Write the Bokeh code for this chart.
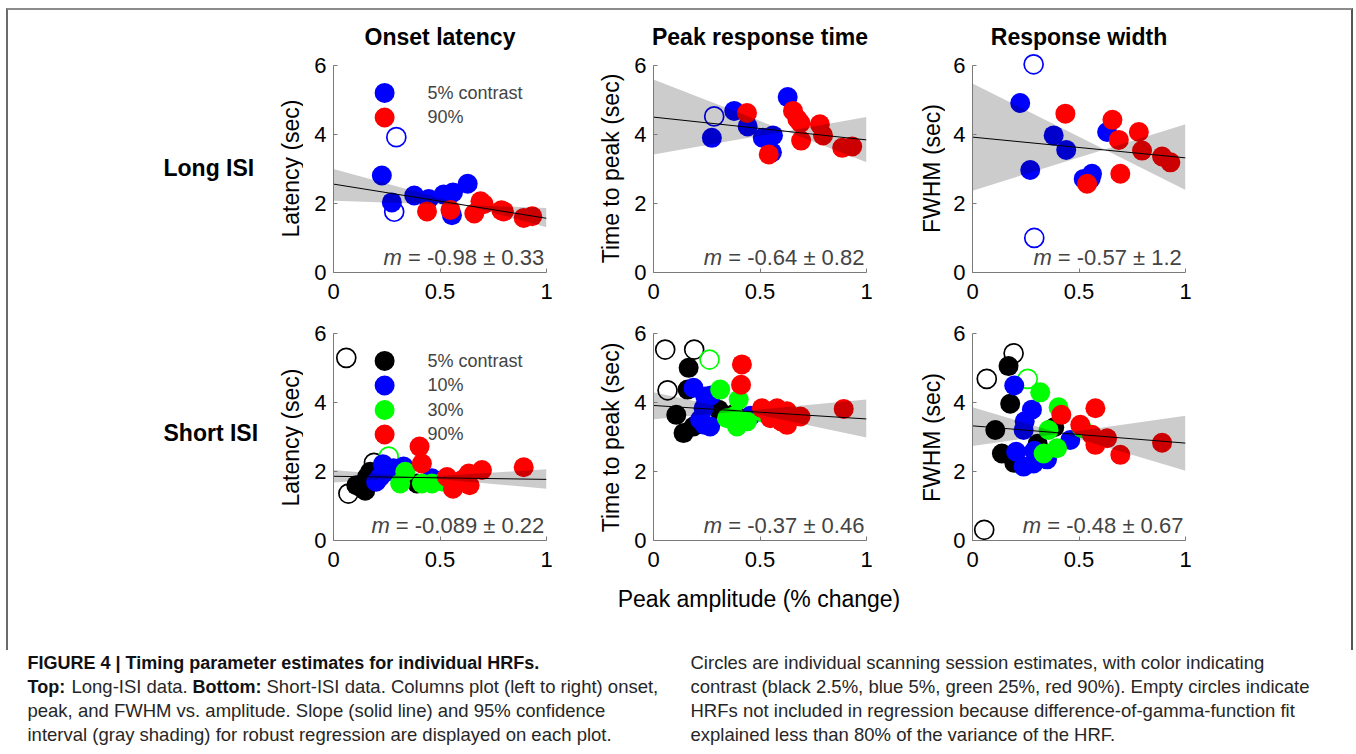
import math
from bokeh.plotting import figure
from bokeh.models import Range1d, FixedTicker, Label, CustomJSTickFormatter
from bokeh.layouts import row, column
from bokeh.core.properties import value
from bokeh.embed import file_html
from bokeh.resources import INLINE

FONT = "Liberation Sans"
BLACK, BLUE, GREEN, RED = "#000000", "#0000ff", "#00ff00", "#ff0000"

# ---------------- data ----------------
# Long ISI - onset latency
lon_blue_x = [0.227, 0.274, 0.379, 0.447, 0.517, 0.561, 0.630, 0.556]
lon_blue_y = [2.81, 2.03, 2.23, 2.13, 2.26, 2.32, 2.57, 1.66]
lon_red_x = [0.439, 0.549, 0.661, 0.690, 0.705, 0.788, 0.800, 0.893, 0.933]
lon_red_y = [1.77, 1.81, 1.71, 2.06, 1.98, 1.80, 1.77, 1.58, 1.63]
lon_open_blue_x = [0.295, 0.285]
lon_open_blue_y = [3.92, 1.76]

# Long ISI - time to peak
lpk_blue_x = [0.274, 0.379, 0.442, 0.513, 0.561, 0.556, 0.630]
lpk_blue_y = [3.90, 4.68, 4.23, 3.90, 3.97, 3.48, 5.08]
lpk_red_x = [0.439, 0.541, 0.655, 0.675, 0.690, 0.693, 0.781, 0.796, 0.886, 0.933]
lpk_red_y = [4.62, 3.42, 4.68, 4.45, 4.33, 3.82, 4.29, 3.97, 3.61, 3.65]
lpk_open_blue_x = [0.285]
lpk_open_blue_y = [4.52]

# Long ISI - FWHM
lfw_blue_x = [0.224, 0.271, 0.381, 0.440, 0.522, 0.561, 0.555, 0.632]
lfw_blue_y = [4.91, 2.97, 3.97, 3.55, 2.71, 2.86, 2.72, 4.07]
lfw_red_x = [0.436, 0.538, 0.657, 0.687, 0.694, 0.781, 0.796, 0.890, 0.929]
lfw_red_y = [4.60, 2.57, 4.42, 3.84, 2.86, 4.07, 3.53, 3.36, 3.19]
lfw_open_blue_x = [0.287, 0.290]
lfw_open_blue_y = [6.03, 1.00]

# Short ISI - onset latency
son_black_x = [0.107, 0.125, 0.149, 0.157, 0.172, 0.392]
son_black_y = [1.60, 1.55, 1.44, 1.84, 1.99, 1.65]
son_blue_x = [0.200, 0.219, 0.232, 0.250, 0.282, 0.329, 0.462]
son_blue_y = [1.70, 1.84, 2.21, 2.00, 2.09, 2.14, 1.80]
son_green_x = [0.313, 0.337, 0.415, 0.462, 0.517]
son_green_y = [1.65, 1.99, 1.65, 1.65, 1.70]
son_red_x = [0.404, 0.415, 0.533, 0.561, 0.608, 0.635, 0.639, 0.697, 0.893]
son_red_y = [2.72, 2.23, 1.84, 1.50, 1.77, 1.94, 1.60, 2.04, 2.12]
son_open_black_x = [0.060, 0.070, 0.190]
son_open_black_y = [5.29, 1.36, 2.25]
son_open_green_x = [0.259]
son_open_green_y = [2.43]

# Short ISI - time to peak
spk_black_x = [0.165, 0.160, 0.107, 0.141, 0.188, 0.306, 0.379]
spk_black_y = [5.00, 4.37, 3.64, 3.11, 3.30, 3.79, 3.67]
spk_blue_x = [0.188, 0.243, 0.270, 0.235, 0.219, 0.240, 0.266, 0.455]
spk_blue_y = [4.42, 4.17, 4.20, 3.83, 3.50, 3.35, 3.30, 3.61]
spk_green_x = [0.313, 0.400, 0.345, 0.380, 0.392, 0.439, 0.514]
spk_green_y = [4.37, 4.08, 3.54, 3.60, 3.30, 3.45, 3.71]
spk_red_x = [0.415, 0.411, 0.509, 0.549, 0.580, 0.600, 0.627, 0.627, 0.690, 0.893]
spk_red_y = [5.10, 4.51, 3.83, 3.54, 3.83, 3.45, 3.74, 3.35, 3.59, 3.81]
spk_open_black_x = [0.055, 0.191, 0.066]
spk_open_black_y = [5.53, 5.53, 4.35]
spk_open_green_x = [0.263]
spk_open_green_y = [5.24]

# Short ISI - FWHM
sfw_black_x = [0.169, 0.177, 0.107, 0.138, 0.196, 0.306, 0.384]
sfw_black_y = [5.05, 3.96, 3.20, 2.52, 2.25, 2.80, 3.28]
sfw_blue_x = [0.196, 0.279, 0.245, 0.240, 0.205, 0.290, 0.240, 0.287, 0.350, 0.459]
sfw_blue_y = [4.49, 3.79, 3.45, 3.20, 2.57, 2.60, 2.14, 2.23, 2.35, 2.91]
sfw_green_x = [0.318, 0.404, 0.357, 0.334, 0.397, 0.514]
sfw_green_y = [4.29, 3.86, 3.20, 2.52, 2.67, 3.25]
sfw_red_x = [0.417, 0.506, 0.577, 0.561, 0.577, 0.632, 0.694, 0.890]
sfw_red_y = [3.64, 3.35, 3.83, 3.06, 2.77, 2.96, 2.48, 2.83]
sfw_open_black_x = [0.193, 0.067, 0.055]
sfw_open_black_y = [5.42, 4.68, 0.31]
sfw_open_green_x = [0.259]
sfw_open_green_y = [4.68]

# robust-regression line (value at amplitude 0 and 1) and 95% band edges
fit_y_at0 = [2.56, 4.50, 3.92, 1.86, 3.91, 3.32]
fit_y_at1 = [1.57, 3.84, 3.32, 1.77, 3.52, 2.82]
band_lo_at0 = [2.08, 3.42, 2.37, 1.68, 3.51, 2.74]
band_hi_at0 = [3.00, 5.59, 5.47, 2.04, 4.29, 3.86]
band_lo_at1 = [1.31, 3.19, 2.39, 1.50, 2.98, 2.02]
band_hi_at1 = [1.87, 4.50, 4.29, 2.06, 4.08, 3.61]
slope_text = ["-0.98 \u00b1 0.33", "-0.64 \u00b1 0.82", "-0.57 \u00b1 1.2",
              "-0.089 \u00b1 0.22", "-0.37 \u00b1 0.46", "-0.48 \u00b1 0.67"]

col_titles = ["Onset latency", "Peak response time", "Response width"]
row_titles = ["Long ISI", "Short ISI"]
y_titles = ["Latency (sec)", "Time to peak (sec)", "FWHM (sec)"]
x_title = "Peak amplitude (% change)"
legend_long = ["5% contrast", "90%"]
legend_short = ["5% contrast", "10%", "30%", "90%"]
x_ticks = [0, 0.5, 1]
y_ticks = [0, 2, 4, 6]

# ---------------- layout constants (page pixels) ----------------
FW, FH, YTOP = 213, 221, 6.4
X0, X1 = 8, 1351                    # inner box of the framed figure
FRAME_L = [333, 653, 972]           # left edge of each plot frame
P_LEFT = [30, 27, 27]
P_RIGHT = [30, 30, 166]
GAPS = [(8, 303), (576, 626), (896, 945)]   # strips holding row / y labels
ROW1 = dict(top=0, bottom=43, f0=51, f1=272)
ROW2 = dict(top=4, bottom=40, f0=319, f1=540)
YLAB_X = [290, 610, 931]
M_X = [0.235, 0.236, 0.286, 0.178, 0.236, 0.236]


def bare(width, height, xr, yr, top=0, bottom=0):
    f = figure(width=width, height=height, x_range=Range1d(*xr), y_range=Range1d(*yr),
               x_axis_type=None, y_axis_type=None, min_border=0,
               min_border_top=top, min_border_bottom=bottom,
               output_backend="svg", toolbar_location=None, title=None)
    f.xgrid.visible = False
    f.ygrid.visible = False
    f.outline_line_color = None
    return f


def put_text(f, x, y, txt, size="23px", style="normal", angle=0.0, align="center"):
    f.text(x=[x], y=[y], text=[txt], text_font=value(FONT), text_font_style=style,
           text_font_size=size, text_color="black", angle=angle,
           text_align=align, text_baseline="middle")


def make_panel(idx, filled, opened, rw):
    c = idx % 3
    p = figure(frame_width=FW, frame_height=FH,
               min_border_left=P_LEFT[c], min_border_right=P_RIGHT[c],
               min_border_top=rw["top"], min_border_bottom=rw["bottom"],
               x_range=Range1d(0, 1), y_range=Range1d(0, YTOP),
               output_backend="svg", toolbar_location=None, title=None)
    p.xgrid.visible = False
    p.ygrid.visible = False
    p.outline_line_color = None
    p.xaxis.ticker = FixedTicker(ticks=x_ticks)
    p.yaxis.ticker = FixedTicker(ticks=y_ticks)
    p.xaxis.bounds = (0, 1)
    p.yaxis.bounds = (0, 6)
    fmt = CustomJSTickFormatter(code="return String(tick)")
    p.xaxis.formatter = fmt
    p.yaxis.formatter = fmt
    for ax in p.axis:
        ax.major_tick_in = 4
        ax.major_tick_out = 0
        ax.minor_tick_in = 0
        ax.minor_tick_out = 0
        ax.axis_line_color = "#7a7a7a"
        ax.major_tick_line_color = "#7a7a7a"
        ax.major_label_text_font = FONT
        ax.major_label_text_font_size = "22px"
        ax.major_label_text_color = "black"
    p.xaxis.major_label_standoff = 11
    p.yaxis.major_label_standoff = 7

    for (xs, ys, col) in opened:
        p.scatter(xs, ys, size=19, marker="circle", fill_color=None,
                  line_color=col, line_width=1.7)
    for (xs, ys, col) in filled:
        p.scatter(xs, ys, size=20, marker="circle", fill_color=col,
                  line_color=col, line_width=0)

    # 95% band: two lines crossing at the pivot
    a0, a1 = band_hi_at0[idx], band_lo_at1[idx]
    b0, b1 = band_lo_at0[idx], band_hi_at1[idx]
    xp = (a0 - b0) / ((a0 - b0) + (b1 - a1))
    yp = a0 + (a1 - a0) * xp
    p.patch([0, xp, 1, 1, xp, 0], [a0, yp, b1, a1, yp, b0],
            fill_color="black", fill_alpha=0.2, line_color=None)
    p.line([0, 1], [fit_y_at0[idx], fit_y_at1[idx]], line_color="black",
           line_width=1)

    p.add_layout(Label(x=M_X[idx], y=0.42, text="m", text_font=FONT,
                       text_font_style="italic", text_font_size="22px",
                       text_align="left", text_baseline="middle"))
    p.add_layout(Label(x=M_X[idx], y=0.42, x_offset=24.4, text="= " + slope_text[idx],
                       text_font=FONT, text_font_size="22px",
                       text_align="left", text_baseline="middle"))
    return p


def legend(p, labels, colors):
    ys = [5.2 - 0.71 * i for i in range(len(labels))]
    for yv, lab, col in zip(ys, labels, colors):
        p.scatter([0.24], [yv], size=20, marker="circle", fill_color=col,
                  line_color=col, line_width=0)
        p.add_layout(Label(x=0.441, y=yv, text=lab, text_font=FONT,
                           text_font_size="18px", text_align="left",
                           text_baseline="middle"))


def strips(rw, row_title, y_row, y_lab):
    out = []
    h = rw["top"] + FH + rw["bottom"]
    for k, (g0, g1) in enumerate(GAPS):
        f = bare(g1 - g0, h, (g0, g1), (rw["f1"], rw["f0"]), rw["top"], rw["bottom"])
        if k == 0:
            put_text(f, 163, y_row, row_title, style="bold", align="left")
        put_text(f, YLAB_X[k], y_lab, y_titles[k], angle=math.pi / 2)
        out.append(f)
    return out


p1 = make_panel(0, [(lon_blue_x, lon_blue_y, BLUE), (lon_red_x, lon_red_y, RED)],
                [(lon_open_blue_x, lon_open_blue_y, BLUE)], ROW1)
p2 = make_panel(1, [(lpk_blue_x, lpk_blue_y, BLUE), (lpk_red_x, lpk_red_y, RED)],
                [(lpk_open_blue_x, lpk_open_blue_y, BLUE)], ROW1)
p3 = make_panel(2, [(lfw_blue_x, lfw_blue_y, BLUE), (lfw_red_x, lfw_red_y, RED)],
                [(lfw_open_blue_x, lfw_open_blue_y, BLUE)], ROW1)
p4 = make_panel(3, [(son_black_x, son_black_y, BLACK), (son_blue_x, son_blue_y, BLUE),
                    (son_green_x, son_green_y, GREEN), (son_red_x, son_red_y, RED)],
                [(son_open_black_x, son_open_black_y, BLACK),
                 (son_open_green_x, son_open_green_y, GREEN)], ROW2)
p5 = make_panel(4, [(spk_black_x, spk_black_y, BLACK), (spk_blue_x, spk_blue_y, BLUE),
                    (spk_green_x, spk_green_y, GREEN), (spk_red_x, spk_red_y, RED)],
                [(spk_open_black_x, spk_open_black_y, BLACK),
                 (spk_open_green_x, spk_open_green_y, GREEN)], ROW2)
p6 = make_panel(5, [(sfw_black_x, sfw_black_y, BLACK), (sfw_blue_x, sfw_blue_y, BLUE),
                    (sfw_green_x, sfw_green_y, GREEN), (sfw_red_x, sfw_red_y, RED)],
                [(sfw_open_black_x, sfw_open_black_y, BLACK),
                 (sfw_open_green_x, sfw_open_green_y, GREEN)], ROW2)

legend(p1, legend_long, [BLUE, RED])
legend(p4, legend_short, [BLACK, BLUE, GREEN, RED])

a1, b1, c1 = strips(ROW1, row_titles[0], 167, 168)
a2, b2, c2 = strips(ROW2, row_titles[1], 432, 437)

# column titles (header strip) and shared x-axis title (footer strip)
header = bare(X1 - X0, 41, (X0, X1), (51, 10))
for k in range(3):
    put_text(header, FRAME_L[k] + FW / 2, 36, col_titles[k], style="bold")
footer = bare(X1 - X0, 70, (X0, X1), (650, 580))
put_text(footer, FRAME_L[1] + FW / 2 - 1, 598, x_title)

# ---------------- caption ----------------
cap = bare(1356, 104, (0, 1356), (754, 650))
cap_items = [
    (27, 662, "FIGURE 4 | Timing parameter estimates for individual HRFs.", "bold"),
    (27, 686, "Top:", "bold"),
    (71, 686, "Long-ISI data.", "normal"),
    (192, 686, "Bottom:", "bold"),
    (266, 686, "Short-ISI data. Columns plot (left to right) onset,", "normal"),
    (27, 710, "peak, and FWHM vs. amplitude. Slope (solid line) and 95% confidence", "normal"),
    (27, 734, "interval (gray shading) for robust regression are displayed on each plot.", "normal"),
    (690, 662, "Circles are individual scanning session estimates, with color indicating", "normal"),
    (690, 686, "contrast (black 2.5%, blue 5%, green 25%, red 90%). Empty circles indicate", "normal"),
    (690, 710, "HRFs not included in regression because difference-of-gamma-function fit", "normal"),
    (690, 734, "explained less than 80% of the variance of the HRF.", "normal"),
]
for (cx, cy, txt, style) in cap_items:
    cap.add_layout(Label(x=cx, y=cy, text=txt, text_font=FONT, text_font_style=style,
                         text_font_size="18px" if style == "bold" else "18.5px",
                         text_color="#111111" if style == "bold" else "#262626",
                         text_align="left", text_baseline="middle"))

grid = column(header, row(a1, p1, b1, p2, c1, p3), row(a2, p4, b2, p5, c2, p6), footer,
              styles={"border-top": "2px solid #8c8c8c", "border-left": "2px solid #6b6b6b",
                      "border-right": "2px solid #555555"},
              margin=(8, 0, 0, 6))
page = column(grid, cap)

open("out.html", "w").write(file_html(page, INLINE))
